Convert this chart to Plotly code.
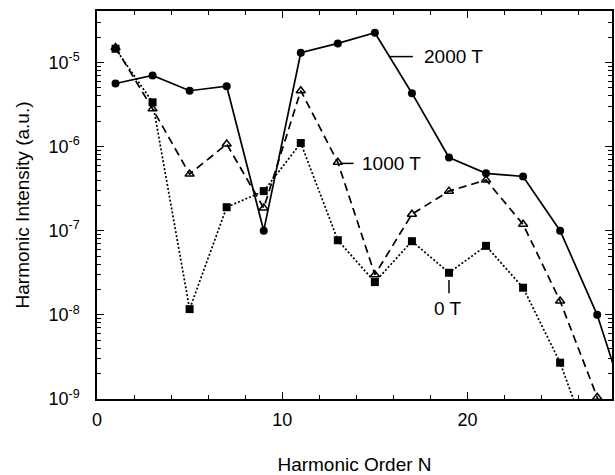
import math
import plotly.graph_objects as go

N = [1, 3, 5, 7, 9, 11, 13, 15, 17, 19, 21, 23, 25, 27, 29]
I_2000 = [5.6e-6, 7.0e-6, 4.6e-6, 5.2e-6, 1.0e-7, 1.3e-5, 1.68e-5, 2.25e-5,
          4.3e-6, 7.4e-7, 4.8e-7, 4.4e-7, 1.0e-7, 1.0e-8, 4.3e-10]
I_1000 = [1.5e-5, 2.8e-6, 4.7e-7, 1.07e-6, 1.86e-7, 4.6e-6, 6.5e-7, 3.0e-8,
          1.57e-7, 2.95e-7, 4.0e-7, 1.19e-7, 1.46e-8, 1.05e-9, 6e-11]
I_0 = [1.45e-5, 3.35e-6, 1.17e-8, 1.9e-7, 2.95e-7, 1.1e-6, 7.7e-8, 2.45e-8,
       7.5e-8, 3.16e-8, 6.6e-8, 2.1e-8, 2.7e-9, 1.5e-10, 1e-11]

FONT = "Liberation Sans, Arial, Helvetica, sans-serif"

fig = go.Figure()
fig.add_trace(go.Scatter(x=N, y=I_2000, mode="lines+markers", name="2000 T",
                         line=dict(color="black", width=1.7, dash="solid"),
                         marker=dict(symbol="circle", size=8, color="black"),
                         cliponaxis=True))
fig.add_trace(go.Scatter(x=N, y=I_1000, mode="lines+markers", name="1000 T",
                         line=dict(color="black", width=1.7, dash="8px,5px"),
                         marker=dict(symbol="triangle-up-open", size=8, color="black",
                                     line=dict(width=1.5, color="black")),
                         cliponaxis=True))
fig.add_trace(go.Scatter(x=N, y=I_0, mode="lines+markers", name="0 T",
                         line=dict(color="black", width=1.7, dash="2px,2px"),
                         marker=dict(symbol="square", size=8, color="black"),
                         cliponaxis=True))

# leader lines for labels (label positions, not data)
leaders = [
    ([15.75, 17.05], [1.17e-5, 1.17e-5]),
    ([13.15, 13.85], [6.3e-7, 6.3e-7]),
    ([19.0, 19.0], [2.6e-8, 1.8e-8]),
]
for lx, ly in leaders:
    fig.add_trace(go.Scatter(x=lx, y=ly, mode="lines", hoverinfo="skip",
                             line=dict(color="black", width=1.5)))

yt = [1e-9, 1e-8, 1e-7, 1e-6, 1e-5]
ytext = ["10<sup>-9</sup>", "10<sup>-8</sup>", "10<sup>-7</sup>",
         "10<sup>-6</sup>", "10<sup>-5</sup>"]
minor_y = [m * 10.0 ** k for k in range(-9, -4) for m in range(2, 10)]

fig.update_xaxes(range=[0, 27.8], tickvals=[0, 10, 20], ticks="inside", ticklen=7,
                 tickwidth=1.3, tickcolor="black", showline=True, linecolor="black",
                 linewidth=1.5, mirror="ticks", showgrid=False, zeroline=False,
                 minor=dict(tickvals=[2, 4, 6, 8, 12, 14, 16, 18, 22, 24, 26],
                            ticks="inside", ticklen=4, tickwidth=1.2, tickcolor="black"),
                 tickfont=dict(family=FONT, size=18, color="black"),
                 ticklabelstandoff=4,
                 title=dict(text="Harmonic Order N", standoff=28,
                            font=dict(family=FONT, size=19, color="black")))
fig.update_yaxes(type="log", range=[-9, -4.39], tickvals=yt, ticktext=ytext,
                 ticks="inside", ticklen=7, tickwidth=1.3, tickcolor="black",
                 showline=True, linecolor="black", linewidth=1.5, mirror="ticks",
                 showgrid=False, zeroline=False,
                 minor=dict(tickvals=minor_y, ticks="inside", ticklen=4,
                            tickwidth=1.2, tickcolor="black"),
                 tickfont=dict(family=FONT, size=18, color="black"),
                 ticklabelstandoff=12,
                 title=dict(text="Harmonic Intensity (a.u.)", standoff=14,
                            font=dict(family=FONT, size=19, color="black")))

labels = [
    ("2000 T", 17.55, 1.17e-5, "left"),
    ("1000 T", 14.2, 6.3e-7, "left"),
    ("0 T", 18.95, 1.2e-8, "center"),
]
for txt, x, y, anchor in labels:
    fig.add_annotation(text=txt, x=x, y=math.log10(y), xref="x", yref="y",
                       xanchor=anchor, yanchor="middle", showarrow=False,
                       font=dict(family=FONT, size=19, color="black"))

fig.update_layout(width=615, height=475, margin=dict(l=97, r=1, t=11, b=76),
                  plot_bgcolor="white", paper_bgcolor="white", showlegend=False)

fig.write_html("out.html")
